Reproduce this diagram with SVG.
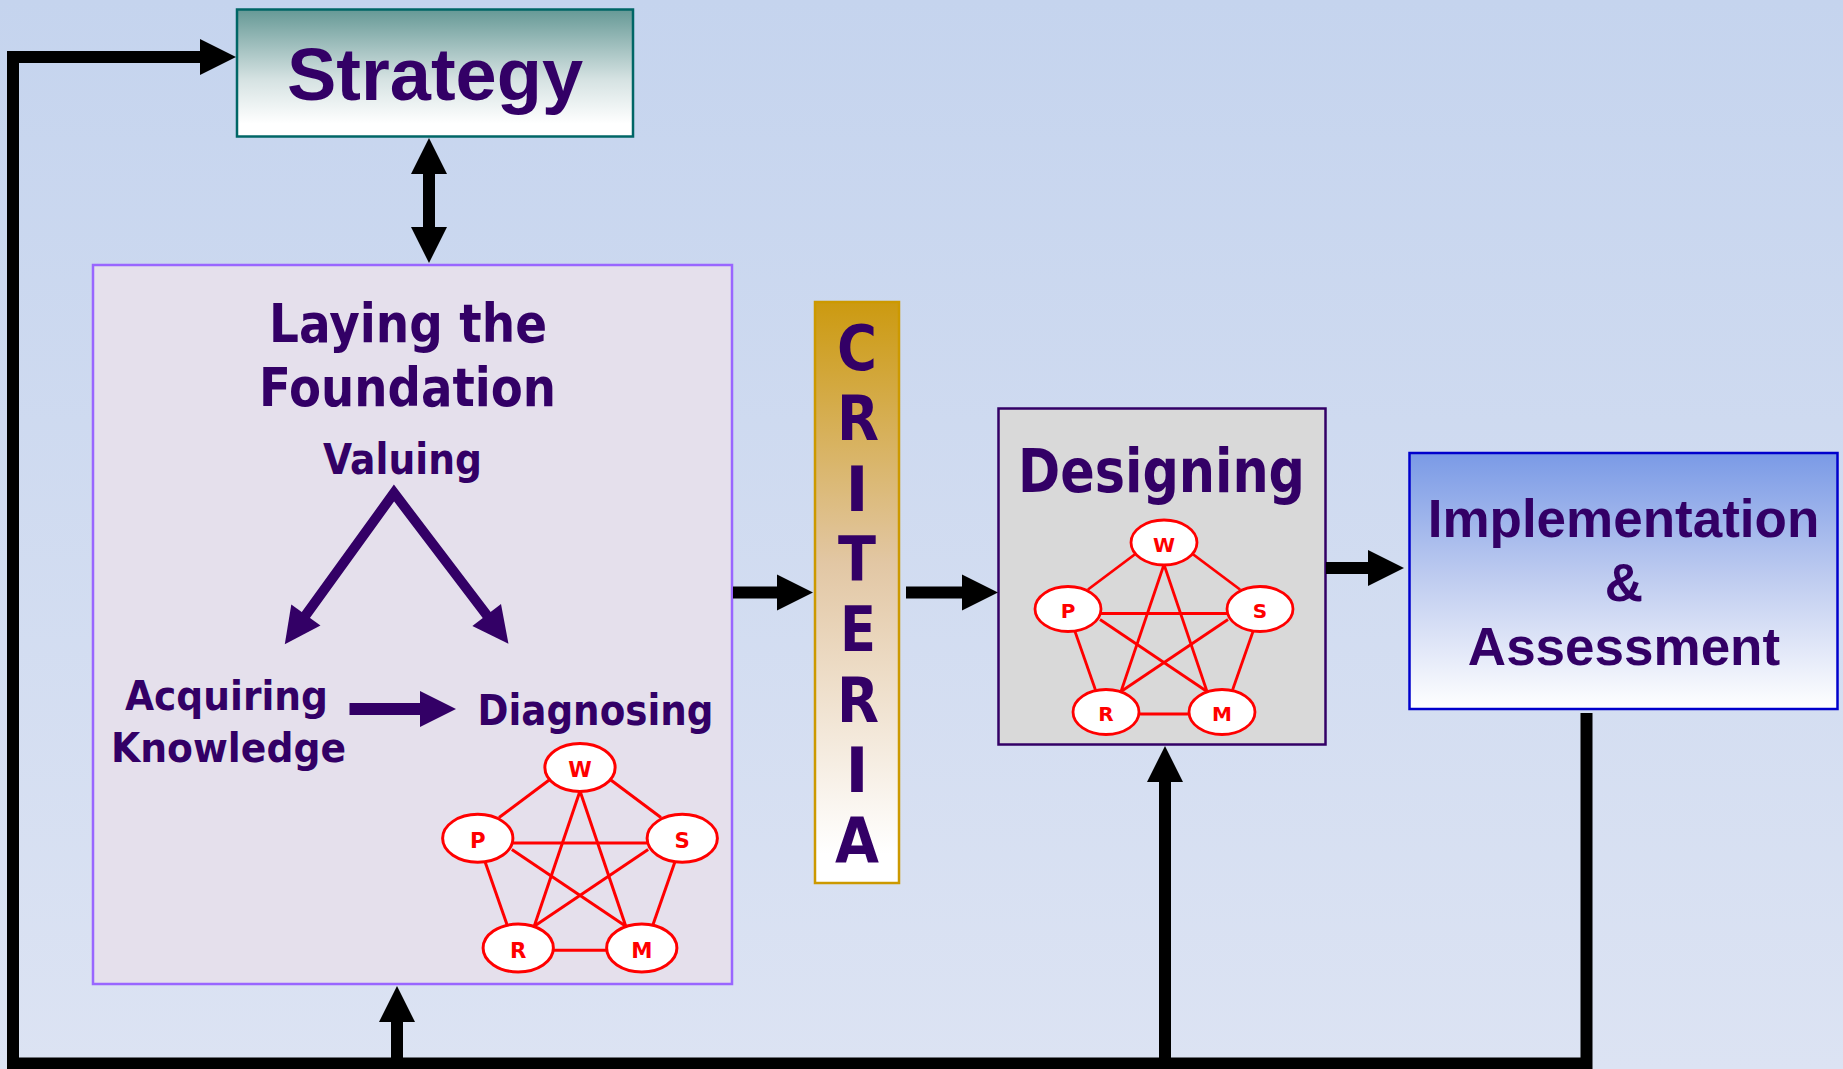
<svg xmlns="http://www.w3.org/2000/svg" xmlns:xlink="http://www.w3.org/1999/xlink" width="1843" height="1069" viewBox="0 0 1843 1069">
  <defs>
    <linearGradient id="bg" x1="0" y1="0" x2="0" y2="1">
      <stop offset="0" stop-color="#c5d4ee"/>
      <stop offset="1" stop-color="#dce3f3"/>
    </linearGradient>
    <linearGradient id="gStrategy" x1="0" y1="0" x2="0" y2="1">
      <stop offset="0" stop-color="#669996"/>
      <stop offset="0.55" stop-color="#d5e2e2"/>
      <stop offset="0.9" stop-color="#ffffff"/>
    </linearGradient>
    <linearGradient id="gCriteria" x1="0" y1="0" x2="0" y2="1">
      <stop offset="0" stop-color="#cc9a10"/>
      <stop offset="0.45" stop-color="#e2c7a4"/>
      <stop offset="0.95" stop-color="#ffffff"/>
    </linearGradient>
    <linearGradient id="gImpl" x1="0" y1="0" x2="0" y2="1">
      <stop offset="0" stop-color="#7a9ae6"/>
      <stop offset="0.5" stop-color="#c0cdf0"/>
      <stop offset="1" stop-color="#ffffff"/>
    </linearGradient>
    <marker id="headBlack" viewBox="0 -18 36 36" refX="1" refY="0" markerWidth="36" markerHeight="36" markerUnits="userSpaceOnUse" orient="auto-start-reverse" overflow="visible">
      <path d="M0,-18 L36,0 L0,18 Z" fill="#000"/>
    </marker>
    <marker id="headPurple" viewBox="0 -18 36 36" refX="1" refY="0" markerWidth="36" markerHeight="36" markerUnits="userSpaceOnUse" orient="auto-start-reverse" overflow="visible">
      <path d="M0,-18 L36,0 L0,18 Z" fill="#330066"/>
    </marker>
    <!-- five-node relationship graph, W node centred at origin -->
    <g id="pentagraph">
      <g class="edge">
        <line x1="-28" y1="11" x2="-76" y2="47"/>
        <line x1="28" y1="11" x2="76" y2="47"/>
        <line x1="0" y1="22" x2="-43" y2="149"/>
        <line x1="0" y1="22" x2="43" y2="149"/>
        <line x1="-64" y1="77" x2="43" y2="149"/>
        <line x1="64" y1="77" x2="-43" y2="149"/>
        <line x1="-89" y1="89" x2="-68" y2="149"/>
        <line x1="89" y1="89" x2="68" y2="149"/>
        <line x1="-63" y1="71" x2="63" y2="71" stroke-width="3.8"/>
        <line x1="-26" y1="171.5" x2="26" y2="171.5" stroke-width="5"/>
      </g>
      <g class="pnode">
        <ellipse cx="0" cy="0" rx="33" ry="22.5"/>
        <ellipse cx="-96" cy="66.5" rx="33" ry="22.5"/>
        <ellipse cx="96" cy="66.5" rx="33" ry="22.5"/>
        <ellipse cx="-58" cy="169.5" rx="33" ry="22.5"/>
        <ellipse cx="58" cy="169.5" rx="33" ry="22.5"/>
      </g>
      <g class="plabel">
        <text x="0" y="9">W</text>
        <text x="-96" y="75.5">P</text>
        <text x="96" y="75.5">S</text>
        <text x="-58" y="178.5">R</text>
        <text x="58" y="178.5">M</text>
      </g>
    </g>
  </defs>
  <style>
    .title { font-family: "Liberation Sans", Arial, sans-serif; font-weight: bold; fill: #330066; text-anchor: middle; }
    .label { font-family: "DejaVu Sans", Verdana, sans-serif; font-weight: bold; fill: #330066; text-anchor: middle; }
    .edge line { stroke: #ff0000; stroke-width: 2.8; }
    .pnode ellipse { fill: #ffffff; stroke: #ff0000; stroke-width: 2.8; }
    .plabel text { font-family: "DejaVu Sans", Verdana, sans-serif; font-weight: bold; font-size: 20px; fill: #ff0000; text-anchor: middle; }
    .conn { fill: none; stroke: #000; stroke-width: 12; stroke-linejoin: miter; }
    .inner { fill: none; stroke: #330066; stroke-linejoin: miter; }
  </style>

  <rect x="0" y="0" width="1843" height="1069" fill="url(#bg)"/>

  <!-- Strategy -->
  <g id="strategy">
    <rect x="237" y="9.5" width="396" height="127" fill="url(#gStrategy)" stroke="#006666" stroke-width="2.5"/>
    <text class="title" x="435" y="100" font-size="74">Strategy</text>
  </g>

  <!-- Laying the Foundation -->
  <g id="foundation">
    <rect x="93" y="265" width="639" height="719" fill="#e5e0ec" stroke="#9966ff" stroke-width="2.5"/>
    <text class="label" x="408" y="342" font-size="53" textLength="278" lengthAdjust="spacingAndGlyphs">Laying the</text>
    <text class="label" x="407.5" y="405.5" font-size="53" textLength="297" lengthAdjust="spacingAndGlyphs">Foundation</text>
    <text class="label" x="402.5" y="474" font-size="43" textLength="159" lengthAdjust="spacingAndGlyphs">Valuing</text>
    <text class="label" x="226.5" y="709.5" font-size="40" textLength="203" lengthAdjust="spacingAndGlyphs">Acquiring</text>
    <text class="label" x="228.5" y="761.5" font-size="41" textLength="235" lengthAdjust="spacingAndGlyphs">Knowledge</text>
    <text class="label" x="595.5" y="725" font-size="42" textLength="236" lengthAdjust="spacingAndGlyphs">Diagnosing</text>
    <path class="inner" d="M305.3,615.8 L394,493 L487.3,615.8" stroke-width="10" marker-start="url(#headPurple)" marker-end="url(#headPurple)"/>
    <path class="inner" d="M349.5,709 H421" stroke-width="12" marker-end="url(#headPurple)"/>
    <use xlink:href="#pentagraph" href="#pentagraph" transform="translate(580,767.5) scale(1.065)"/>
  </g>

  <!-- Criteria -->
  <g id="criteria">
    <rect x="815" y="302" width="84" height="581" fill="url(#gCriteria)" stroke="#cc9900" stroke-width="2.5"/>
    <g class="label" font-size="62">
      <text x="857" y="370" textLength="40" lengthAdjust="spacingAndGlyphs">C</text>
      <text x="858" y="440.3" textLength="42" lengthAdjust="spacingAndGlyphs">R</text>
      <text x="857" y="510.6" textLength="23" lengthAdjust="spacingAndGlyphs">I</text>
      <text x="857" y="580.9" textLength="38" lengthAdjust="spacingAndGlyphs">T</text>
      <text x="858" y="651.2" textLength="36" lengthAdjust="spacingAndGlyphs">E</text>
      <text x="858" y="721.5" textLength="42" lengthAdjust="spacingAndGlyphs">R</text>
      <text x="857" y="791.8" textLength="23" lengthAdjust="spacingAndGlyphs">I</text>
      <text x="857" y="862.3" textLength="44" lengthAdjust="spacingAndGlyphs">A</text>
    </g>
  </g>

  <!-- Designing -->
  <g id="designing">
    <rect x="998.5" y="408.5" width="327" height="336" fill="#d9d9d9" stroke="#330066" stroke-width="2.5"/>
    <text class="label" x="1161.5" y="491.5" font-size="60" textLength="287" lengthAdjust="spacingAndGlyphs">Designing</text>
    <use xlink:href="#pentagraph" href="#pentagraph" transform="translate(1164,542.5)"/>
  </g>

  <!-- Implementation & Assessment -->
  <g id="implementation">
    <rect x="1409.5" y="453" width="428" height="256" fill="url(#gImpl)" stroke="#0000cc" stroke-width="2.5"/>
    <text class="title" x="1623.5" y="537" font-size="53">Implementation</text>
    <text class="title" x="1624" y="600.5" font-size="53">&amp;</text>
    <text class="title" x="1624" y="665" font-size="53">Assessment</text>
  </g>

  <!-- Connectors -->
  <g id="connectors">
    <path class="conn" d="M1586.5,713 V1063.5 H13 V57 H201" stroke-width="11" marker-end="url(#headBlack)"/>
    <path class="conn" d="M397,1058 V1021" stroke-width="11" marker-end="url(#headBlack)"/>
    <path class="conn" d="M1165,1058 V781" stroke-width="11.5" marker-end="url(#headBlack)"/>
    <path class="conn" d="M429,173 V228" marker-start="url(#headBlack)" marker-end="url(#headBlack)"/>
    <path class="conn" d="M733,592.5 H778" marker-end="url(#headBlack)"/>
    <path class="conn" d="M906,592.5 H963" marker-end="url(#headBlack)"/>
    <path class="conn" d="M1326,568 H1369" marker-end="url(#headBlack)"/>
  </g>
</svg>
